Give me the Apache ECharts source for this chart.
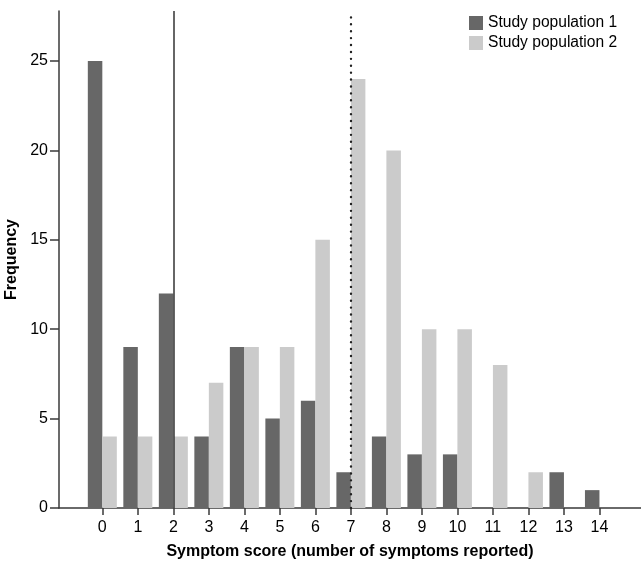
<!DOCTYPE html>
<html>
<head>
<meta charset="utf-8">
<script src="https://cdn.jsdelivr.net/npm/echarts@6/dist/echarts.min.js"></script>
<style>html,body{margin:0;padding:0;background:#fff}#c{width:641px;height:564px}</style>
</head>
<body>
<div id="c"></div>
<script>
const scores = [0,1,2,3,4,5,6,7,8,9,10,11,12,13,14];
const pop1 = [25,9,12,4,9,5,6,2,4,3,3,0,0,2,1];
const pop2 = [4,4,4,7,9,9,15,24,20,10,10,8,2,0,0];
const yTicks = [0,5,10,15,20,25];
const seriesNames = ['Study population 1','Study population 2'];
const solidRef = 2;
const dottedRef = 7;

const FONT = 'Liberation Sans, Arial, sans-serif';
const chart = echarts.init(document.getElementById('c'));
chart.setOption({
  animation: false,
  grid: {left: 59, right: 0, top: 11, bottom: 56, containLabel: false, outerBoundsMode: 'none'},
  legend: {
    orient: 'vertical', left: 464, top: 10,
    itemWidth: 14, itemHeight: 14, itemGap: 4,
    icon: 'rect',
    textStyle: {fontFamily: FONT, fontSize: 15.6, color: '#000'},
    data: seriesNames
  },
  xAxis: {
    type: 'value', min: -1.22, max: 15.17,
    name: 'Symptom score (number of symptoms reported)',
    nameLocation: 'middle', nameGap: 36,
    nameTextStyle: {fontFamily: FONT, fontSize: 16, fontWeight: 'bold', color: '#000'},
    axisLine: {show: true, onZero: false, lineStyle: {color: '#3a3a3a', width: 1.5}},
    axisTick: {show: true, length: 7, customValues: scores, lineStyle: {color: '#3a3a3a', width: 1.5}},
    axisLabel: {customValues: scores, margin: 12, fontFamily: FONT, fontSize: 16, color: '#000'},
    splitLine: {show: false}
  },
  yAxis: {
    type: 'value', min: 0, max: 27.8,
    name: 'Frequency', nameLocation: 'middle', nameGap: 35, nameRotate: 90,
    nameTextStyle: {fontFamily: FONT, fontSize: 16, fontWeight: 'bold', color: '#000'},
    axisLine: {show: true, onZero: false, lineStyle: {color: '#3a3a3a', width: 1.5}},
    axisTick: {show: true, length: 9, customValues: yTicks, lineStyle: {color: '#3a3a3a', width: 1.5}},
    axisLabel: {customValues: yTicks, margin: 11, fontFamily: FONT, fontSize: 16, color: '#000'},
    splitLine: {show: false}
  },
  series: [
    {
      name: seriesNames[0], type: 'bar', barWidth: 14.5, barGap: '0%',
      itemStyle: {color: '#676767'},
      data: scores.map((s,i) => [s, pop1[i]])
    },
    {
      name: seriesNames[1], type: 'bar', barWidth: 14.5, barGap: '0%',
      itemStyle: {color: '#cbcbcb'},
      data: scores.map((s,i) => [s, pop2[i]])
    },
    {
      name: 'refs', type: 'line', data: [], z: 10,
      markLine: {
        silent: true, symbol: 'none', label: {show: false},
        data: [
          {xAxis: solidRef, lineStyle: {color: '#333', width: 1.5, type: 'solid'}},
          {xAxis: dottedRef, lineStyle: {color: '#222', width: 2.4, type: [0.01, 6.9], cap: 'round'}}
        ]
      }
    }
  ]
});
</script>
</body>
</html>
